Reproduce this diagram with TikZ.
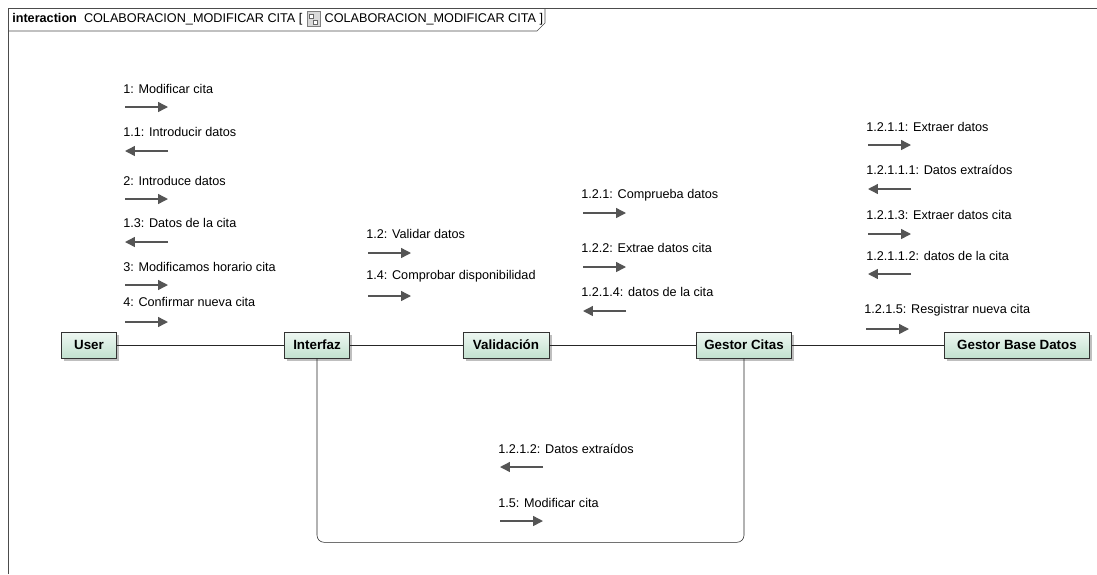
\documentclass[tikz,border=0pt]{standalone}
\usepackage{fontspec}
\setmainfont{Liberation Sans}
\usepackage{tikz}
\usetikzlibrary{arrows.meta, positioning, shadows}
\definecolor{objtop}{RGB}{238,247,242}
\definecolor{objbot}{RGB}{194,225,207}
\definecolor{msggray}{RGB}{85,85,85}

\begin{document}
\begin{tikzpicture}[
        x=0.025cm, y=-0.025cm,
        obj/.style={rectangle, draw=black!80, top color=objtop, bottom color=objbot,
                    minimum height=0.65cm, inner xsep=3pt,
                    font=\fontsize{9.5}{11}\selectfont\bfseries,
                    drop shadow={shadow xshift=2pt, shadow yshift=-2pt, fill=black!25, opacity=1}},
        msg/.style={anchor=west, inner sep=0pt, font=\fontsize{9}{11}\selectfont},
        msgarr/.style={-{Triangle[length=7pt,width=7pt]}, line width=1pt, msggray},
        link/.style={draw=black!85}
      ]
        \useasboundingbox (0,0) rectangle (1097,574);

        % frame and header
        \draw[black!70] (8,574) -- (8,8) -- (1097,8);
        \draw[black!70] (8,31) -- (537,31) -- (545,23) -- (545,8);
        \node[msg] (hdrA) at (12,19) {\textbf{interaction}\ \ COLABORACION\_MODIFICAR CITA [};
        \node[draw=black!50, fill=black!15, minimum width=9pt, minimum height=11pt,
              inner sep=0pt, right=3pt of hdrA] (icon) {};
        \draw[black!60, fill=white] (icon.center) ++(-4,-5) rectangle ++(4,4);
        \draw[black!60, fill=white] (icon.center) ++(0,1) rectangle ++(4,4);
        \node[msg, right=3pt of icon] (hdrB) {COLABORACION\_MODIFICAR CITA ]};

        % objects
        \node[obj, minimum width=1.375cm] (user) at (89,345) {User};
        \node[obj, minimum width=1.625cm] (interfaz) at (317,345) {Interfaz};
        \node[obj, minimum width=2.15cm] (valid) at (506,345) {Validación};
        \node[obj, minimum width=2.375cm] (gestor) at (744,345) {Gestor Citas};
        \node[obj, minimum width=3.625cm] (gbd) at (1017,345) {Gestor Base Datos};

        % links
        \draw[link] (user) -- (interfaz);
        \draw[link] (interfaz) -- (valid);
        \draw[link] (valid) -- (gestor);
        \draw[link] (gestor) -- (gbd);
        \draw[link, rounded corners=5pt] (interfaz.south) -- ++(0,184) -| (gestor.south);

        % User - Interfaz
        \node[msg] (m1) at (123,89) {1: Modificar cita};
        \draw[msgarr] (m1.west) ++(2,18) -- ++(43,0);
        \node[msg] (m2) at (123,132) {1.1: Introducir datos};
        \draw[msgarr] (m2.west) ++(45,19) -- ++(-43,0);
        \node[msg] (m3) at (123,181) {2: Introduce datos};
        \draw[msgarr] (m3.west) ++(2,18) -- ++(43,0);
        \node[msg] (m4) at (123,223) {1.3: Datos de la cita};
        \draw[msgarr] (m4.west) ++(45,19) -- ++(-43,0);
        \node[msg] (m5) at (123,267) {3: Modificamos horario cita};
        \draw[msgarr] (m5.west) ++(2,18) -- ++(43,0);
        \node[msg] (m6) at (123,302) {4: Confirmar nueva cita};
        \draw[msgarr] (m6.west) ++(2,20) -- ++(43,0);

        % Interfaz - Validacion
        \node[msg] (m7) at (366,234) {1.2: Validar datos};
        \draw[msgarr] (m7.west) ++(2,19) -- ++(43,0);
        \node[msg] (m8) at (366,276) {1.4: Comprobar disponibilidad};
        \draw[msgarr] (m8.west) ++(2,20) -- ++(43,0);

        % Validacion - Gestor Citas
        \node[msg] (m9) at (581,195) {1.2.1: Comprueba datos};
        \draw[msgarr] (m9.west) ++(2,18) -- ++(43,0);
        \node[msg] (m10) at (581,248) {1.2.2: Extrae datos cita};
        \draw[msgarr] (m10.west) ++(2,19) -- ++(43,0);
        \node[msg] (m11) at (581,292) {1.2.1.4: datos de la cita};
        \draw[msgarr] (m11.west) ++(45,19) -- ++(-43,0);

        % Gestor Citas - Gestor Base Datos
        \node[msg] (m12) at (866,127) {1.2.1.1: Extraer datos};
        \draw[msgarr] (m12.west) ++(2,18) -- ++(43,0);
        \node[msg] (m13) at (866,170) {1.2.1.1.1: Datos extraídos};
        \draw[msgarr] (m13.west) ++(45,19) -- ++(-43,0);
        \node[msg] (m14) at (866,215) {1.2.1.3: Extraer datos cita};
        \draw[msgarr] (m14.west) ++(2,19) -- ++(43,0);
        \node[msg] (m15) at (866,256) {1.2.1.1.2: datos de la cita};
        \draw[msgarr] (m15.west) ++(45,18) -- ++(-43,0);
        \node[msg] (m16) at (864,310) {1.2.1.5: Resgistrar nueva cita};
        \draw[msgarr] (m16.west) ++(2,19) -- ++(43,0);

        % Interfaz - Gestor Citas (loop)
        \node[msg] (m17) at (498,449) {1.2.1.2: Datos extraídos};
        \draw[msgarr] (m17.west) ++(45,18) -- ++(-43,0);
        \node[msg] (m18) at (498,503) {1.5: Modificar cita};
        \draw[msgarr] (m18.west) ++(2,18) -- ++(43,0);
      \end{tikzpicture}
\end{document}
